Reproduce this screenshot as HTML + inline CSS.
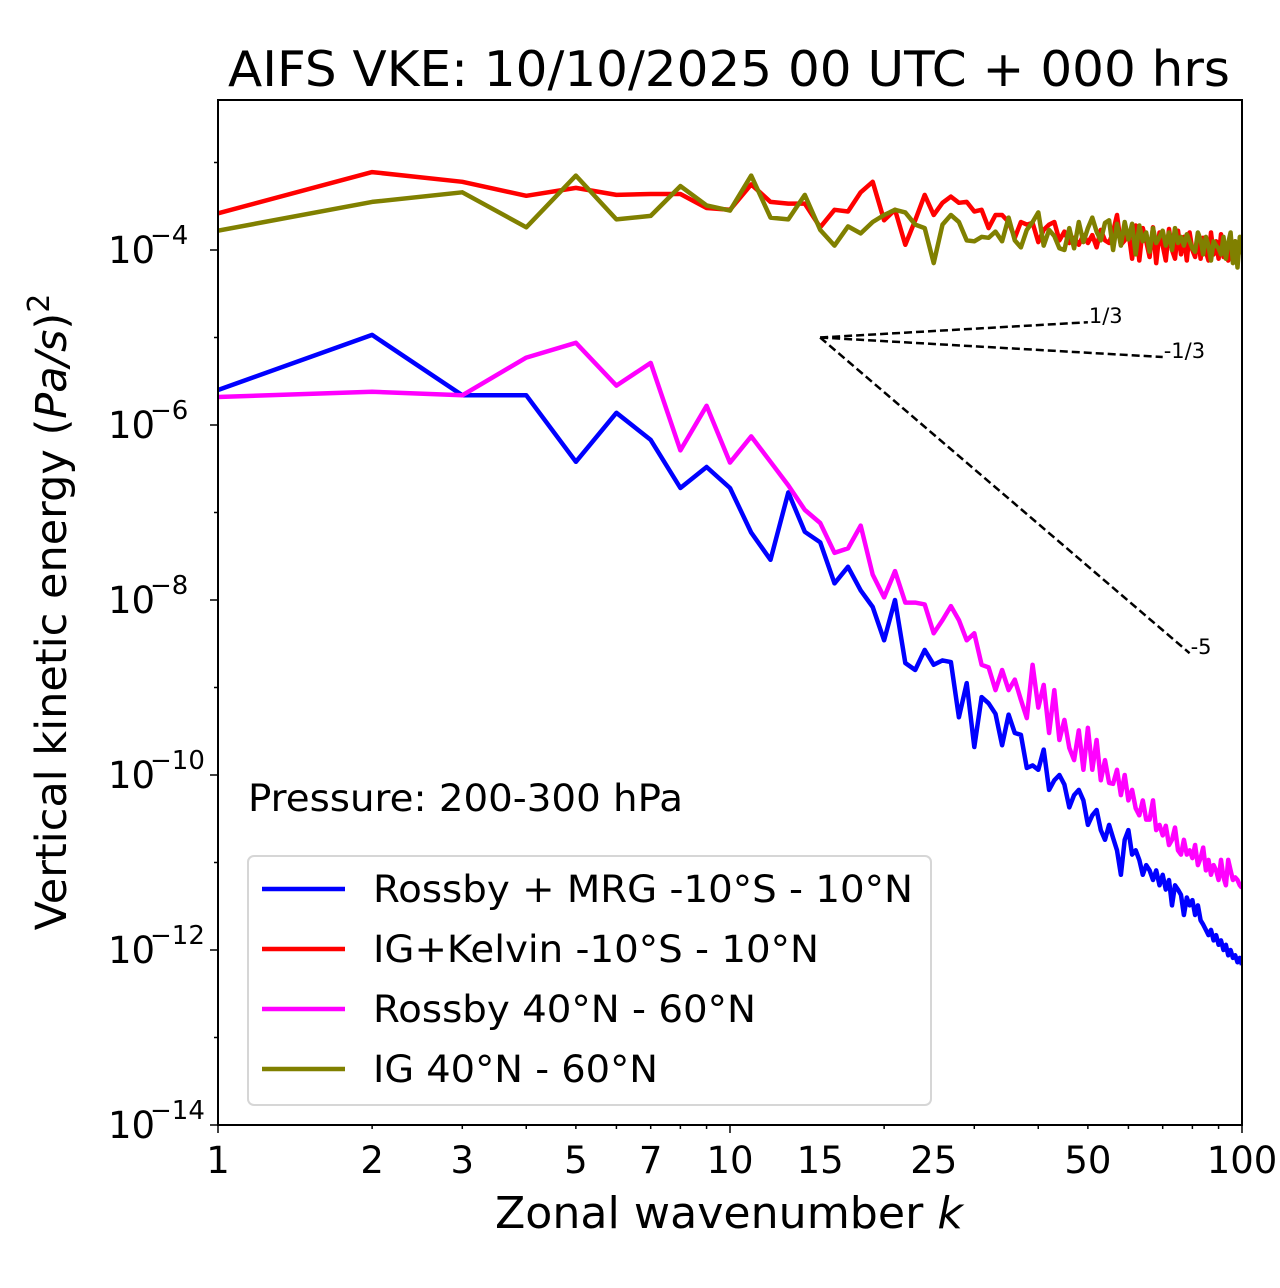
<!DOCTYPE html>
<html><head><meta charset="utf-8"><style>
html,body{margin:0;padding:0;background:#fff;}
svg{display:block;font-family:"DejaVu Sans","Liberation Sans",sans-serif;}
</style></head><body>
<svg id="chart" width="1280" height="1288" viewBox="0 0 1280 1288">
<text x="228" y="86" font-size="49" textLength="1002" lengthAdjust="spacingAndGlyphs">AIFS VKE: 10/10/2025 00 UTC + 000 hrs</text>
<g id="plot"></g>
<text x="248" y="811" font-size="37" textLength="435" lengthAdjust="spacingAndGlyphs">Pressure: 200-300 hPa</text>
<text x="495" y="1228" font-size="44" textLength="468" lengthAdjust="spacingAndGlyphs">Zonal wavenumber <tspan font-style="italic">k</tspan></text>
<text transform="translate(66,612) rotate(-90)" text-anchor="middle" font-size="43">Vertical kinetic energy (<tspan font-style="italic">Pa/s</tspan>)<tspan dy="-17" font-size="30">2</tspan></text>
<g>
<rect x="248" y="856" width="683" height="249" rx="6" fill="#fff" fill-opacity="0.8" stroke="#d6d6d6" stroke-width="2"/>
<g><line x1="262" y1="889" x2="345" y2="889" stroke="#0000ff" stroke-width="4.5"/><text x="373" y="902" font-size="37" textLength="540" lengthAdjust="spacingAndGlyphs">Rossby + MRG -10°S - 10°N</text></g>
<g><line x1="262" y1="949" x2="345" y2="949" stroke="#ff0000" stroke-width="4.5"/><text x="373" y="962" font-size="37" textLength="446" lengthAdjust="spacingAndGlyphs">IG+Kelvin -10°S - 10°N</text></g>
<g><line x1="262" y1="1009" x2="345" y2="1009" stroke="#ff00ff" stroke-width="4.5"/><text x="373" y="1022" font-size="37" textLength="383" lengthAdjust="spacingAndGlyphs">Rossby 40°N - 60°N</text></g>
<g><line x1="262" y1="1069" x2="345" y2="1069" stroke="#808000" stroke-width="4.5"/><text x="373" y="1082" font-size="37" textLength="285" lengthAdjust="spacingAndGlyphs">IG 40°N - 60°N</text></g>
</g>
</svg>
<script>
// log10 of energy for k = 1..100
const logBlue = [-5.6,-4.97,-5.66,-5.66,-6.42,-5.86,-6.17,-6.72,-6.48,-6.72,-7.23,-7.54,-6.77,-7.22,-7.34,-7.81,-7.62,-7.89,-8.08,-8.46,-8.0,-8.72,-8.8,-8.57,-8.74,-8.69,-8.71,-9.34,-8.95,-9.68,-9.11,-9.18,-9.3,-9.66,-9.31,-9.52,-9.54,-9.92,-9.89,-9.94,-9.71,-10.17,-10.06,-10.0,-10.11,-10.37,-10.23,-10.17,-10.29,-10.57,-10.46,-10.4,-10.63,-10.74,-10.57,-10.72,-10.86,-11.14,-10.74,-10.63,-10.91,-10.86,-10.97,-11.14,-11.03,-11.09,-11.2,-11.09,-11.26,-11.14,-11.31,-11.2,-11.49,-11.26,-11.31,-11.37,-11.6,-11.4,-11.49,-11.43,-11.6,-11.49,-11.66,-11.71,-11.77,-11.83,-11.77,-11.89,-11.83,-11.94,-11.89,-12.0,-11.94,-12.06,-12.0,-12.09,-12.06,-12.14,-12.09,-12.17];
const logMagenta = [-5.68,-5.62,-5.66,-5.23,-5.06,-5.55,-5.29,-6.29,-5.78,-6.43,-6.13,-6.42,-6.69,-6.97,-7.12,-7.46,-7.41,-7.15,-7.71,-7.97,-7.67,-8.03,-8.03,-8.05,-8.38,-8.23,-8.07,-8.23,-8.46,-8.38,-8.74,-8.77,-9.03,-8.8,-9.03,-8.91,-9.14,-9.35,-8.74,-9.23,-8.97,-9.52,-9.03,-9.6,-9.37,-9.69,-9.83,-9.49,-9.94,-9.46,-9.94,-9.6,-10.06,-9.83,-10.09,-10.1,-9.94,-10.23,-10.0,-10.29,-10.17,-10.38,-10.46,-10.29,-10.51,-10.51,-10.29,-10.63,-10.57,-10.69,-10.58,-10.8,-10.74,-10.6,-10.86,-10.91,-10.74,-10.91,-10.86,-10.95,-10.8,-11.03,-10.95,-10.83,-11.09,-10.97,-11.14,-11.03,-11.09,-11.2,-10.97,-11.17,-11.26,-10.97,-11.09,-11.2,-11.17,-11.2,-11.26,-11.29];
const logRed = [-3.58,-3.11,-3.22,-3.38,-3.29,-3.37,-3.36,-3.36,-3.52,-3.54,-3.25,-3.45,-3.47,-3.47,-3.74,-3.54,-3.56,-3.34,-3.22,-3.66,-3.54,-3.94,-3.66,-3.37,-3.6,-3.46,-3.39,-3.46,-3.45,-3.56,-3.54,-3.75,-3.6,-3.6,-3.68,-3.86,-3.68,-3.71,-3.69,-3.91,-3.77,-3.71,-3.68,-3.89,-3.79,-3.92,-3.86,-3.94,-3.83,-3.92,-3.83,-3.97,-3.77,-3.89,-3.92,-3.79,-3.6,-3.94,-3.89,-3.79,-4.1,-3.72,-4.12,-3.75,-3.9,-4.08,-3.74,-4.15,-3.8,-3.95,-4.12,-3.76,-4.0,-4.1,-3.78,-4.05,-3.85,-4.12,-3.8,-4.0,-4.08,-3.82,-4.1,-3.86,-4.02,-4.12,-3.8,-4.05,-3.9,-4.1,-3.82,-4.08,-3.95,-4.12,-3.85,-4.05,-3.9,-4.1,-3.88,-4.05];
const logOlive = [-3.78,-3.45,-3.34,-3.74,-3.15,-3.65,-3.61,-3.27,-3.49,-3.55,-3.15,-3.63,-3.65,-3.37,-3.77,-3.95,-3.73,-3.81,-3.68,-3.6,-3.54,-3.57,-3.71,-3.75,-4.15,-3.71,-3.6,-3.68,-3.89,-3.9,-3.85,-3.86,-3.79,-3.9,-3.63,-3.89,-3.97,-3.77,-3.68,-3.57,-3.95,-3.77,-3.84,-3.98,-4.0,-3.75,-3.98,-3.68,-3.91,-3.75,-3.63,-3.79,-3.89,-3.69,-3.66,-4.0,-3.7,-3.95,-3.68,-3.88,-3.7,-4.05,-3.72,-3.9,-3.8,-4.02,-3.75,-3.92,-3.85,-3.78,-3.95,-3.8,-4.0,-3.75,-3.92,-3.85,-3.95,-3.82,-3.9,-3.98,-4.02,-3.8,-3.88,-4.05,-3.85,-3.95,-4.12,-3.9,-3.95,-3.98,-4.05,-3.85,-4.1,-3.92,-3.8,-4.15,-3.9,-4.2,-3.85,-4.05];
const refSlopes = [1/3, -1/3, -5];
const refSlopeLabels = ["1/3", "-1/3", "-5"];
const refEndK = [50, 70, 79];
const refStartK = 15;
const refStartLog = -5.0;
const xTickValues = [1,2,3,5,7,10,15,25,50,100];
const xTickLabels = ["1","2","3","5","7","10","15","25","50","100"];
const yTickExps = [-4,-6,-8,-10,-12,-14];

const NS = "http://www.w3.org/2000/svg";
const X0 = 218, X1 = 1242, Y0 = 100, Y1 = 1125;
const xs = k => X0 + (X1 - X0) / 2 * Math.log10(k);
const ys = e => 250 + (-4 - e) * 87.5;
const plot = document.getElementById('plot');
function mk(tag, attrs, parent) {
  const el = document.createElementNS(NS, tag);
  for (const a in attrs) el.setAttribute(a, attrs[a]);
  (parent || plot).appendChild(el);
  return el;
}
const defs = mk('clipPath', {id: 'clip'});
mk('rect', {x: X0, y: Y0, width: X1 - X0, height: Y1 - Y0}, defs);

const series = [[logBlue, '#0000ff', 'series-rossby-mrg'], [logRed, '#ff0000', 'series-ig-kelvin'], [logMagenta, '#ff00ff', 'series-rossby-midlat'], [logOlive, '#808000', 'series-ig-midlat']];
for (const [arr, col, name] of series) {
  const pts = arr.map((e, i) => xs(i + 1).toFixed(1) + ',' + ys(e).toFixed(1)).join(' ');
  const pl = mk('polyline', {points: pts, fill: 'none', stroke: col, 'stroke-width': 4.5, 'stroke-linejoin': 'round', 'clip-path': 'url(#clip)'});
  
  
}
refSlopes.forEach((s, i) => {
  const eEnd = refStartLog + s * Math.log10(refEndK[i] / refStartK);
  const ln = mk('line', {x1: xs(refStartK), y1: ys(refStartLog), x2: xs(refEndK[i]), y2: ys(eEnd), stroke: '#000', 'stroke-width': 2.5, 'stroke-dasharray': '8,4'});
  
  
  const t = mk('text', {x: xs(refEndK[i]) + 1, y: ys(eEnd) + 1, 'font-size': 21});
  t.textContent = refSlopeLabels[i];
  
  
});
const fr = mk('rect', {x: X0, y: Y0, width: X1 - X0, height: Y1 - Y0, fill: 'none', stroke: '#000', 'stroke-width': 2});


for (let d = 1; d <= 10; d *= 10) for (let m = 2; m <= 9; m++) {
  const k = d * m;
  mk('line', {x1: xs(k), y1: Y1, x2: xs(k), y2: Y1 + 4, stroke: '#000', 'stroke-width': 1.5});
}
[1, 10, 100].forEach(k => mk('line', {x1: xs(k), y1: Y1, x2: xs(k), y2: Y1 + 8, stroke: '#000', 'stroke-width': 1.5}));
xTickValues.forEach((k, i) => {
  const t = mk('text', {x: xs(k), y: Y1 + 48, 'text-anchor': 'middle', 'font-size': 37});
  t.textContent = xTickLabels[i];
  
  
});
for (let e = -14; e <= -3; e++) {
  mk('line', {x1: X0 - (e % 2 === 0 ? 8 : 4), y1: ys(e), x2: X0, y2: ys(e), stroke: '#000', 'stroke-width': 1.5});
}
yTickExps.forEach(e => {
  const t = mk('text', {x: X0 - 110, y: ys(e) + 13, 'font-size': 37});
  t.textContent = '10';
  const sp = mk('text', {x: X0 - 68, y: ys(e) - 6, 'font-size': 26});
  sp.textContent = '\u2212' + Math.abs(e);
  
  
  
  
});
</script>
</body></html>
